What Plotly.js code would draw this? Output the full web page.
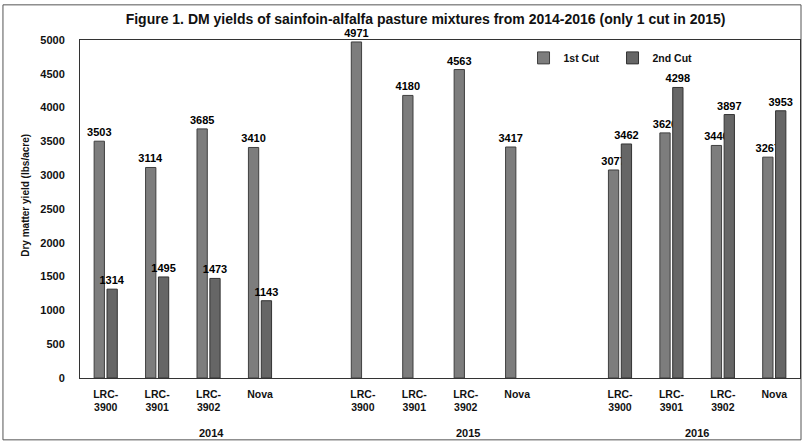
<!DOCTYPE html>
<html>
<head>
<meta charset="utf-8">
<script src="https://cdn.plot.ly/plotly-3.0.1.min.js"></script>
<style>
  html, body { margin: 0; padding: 0; background: #fff; }
  #chart { width: 803px; height: 445px; }
</style>
</head>
<body>
<div id="chart"></div>
<script>
// ---- Data ----
const years = ["2014", "2015", "2016"];
const varieties = ["LRC-3900", "LRC-3901", "LRC-3902", "Nova"];
const firstCut  = [3503, 3114, 3685, 3410,  4971, 4180, 4563, 3417,  3077, 3626, 3440, 3267];
const secondCut = [1314, 1495, 1473, 1143,  null, null, null, null,  3462, 4298, 3897, 3953];
const seriesNames = ["1st Cut", "2nd Cut"];
const yTicks = [0, 500, 1000, 1500, 2000, 2500, 3000, 3500, 4000, 4500, 5000];

// ---- Build category keys (with a blank slot between year groups) ----
const xKeys = [];
const tickVals = [];
const tickText = [];
const categoryOrder = [];
years.forEach((yr, gi) => {
  varieties.forEach(v => {
    const key = yr + " " + v;
    xKeys.push(key);
    categoryOrder.push(key);
    tickVals.push(key);
    tickText.push(v === "Nova" ? "Nova<br> " : v.replace("-", "-<br>"));
  });
  if (gi < years.length - 1) categoryOrder.push("gap" + gi);
});

const boldFont = "Liberation Sans, Arial, sans-serif";

function barTrace(name, values, fill, edge) {
  return {
    type: "bar", name: name, x: xKeys, y: values,
    marker: { color: fill, line: { color: edge, width: 1 } },
    text: values.map(v => v == null ? "" : String(v)),
    textposition: "outside", cliponaxis: false, constraintext: "none",
    textfont: { family: boldFont, size: 11, color: "#000", weight: "bold" }
  };
}

const traces = [
  barTrace(seriesNames[0], firstCut, "#7d7d7d", "#3f3f3f"),
  barTrace(seriesNames[1], secondCut, "#666666", "#333333")
];

// positions of year labels (category index units, as seen in the reference)
const yearPos = [2.05, 7.05, 11.5];

const layout = {
  width: 803, height: 445,
  margin: { l: 80, r: 3, t: 40, b: 67 },
  paper_bgcolor: "#ffffff", plot_bgcolor: "#ffffff",
  font: { family: boldFont, color: "#111" },
  title: {
    text: "<b>Figure 1. DM yields of sainfoin-alfalfa pasture mixtures from 2014-2016 (only 1 cut in 2015)</b>",
    font: { family: boldFont, size: 14, color: "#111" },
    x: 0.53, xanchor: "center", y: 0.958, yanchor: "middle"
  },
  barmode: "group", bargap: 0.5, bargroupgap: 0.2,
  xaxis: {
    type: "category", categoryorder: "array", categoryarray: categoryOrder,
    range: [-0.5, categoryOrder.length - 0.5],
    tickmode: "array", tickvals: tickVals, ticktext: tickText,
    tickfont: { family: boldFont, size: 10.5, color: "#111", weight: "bold" },
    ticks: "outside", ticklen: 6, tickcolor: "rgba(0,0,0,0)", showgrid: false, zeroline: false,
    showline: true, linecolor: "#333", linewidth: 1, mirror: true
  },
  yaxis: {
    range: [0, 5000], tickmode: "array", tickvals: yTicks,
    tickfont: { family: boldFont, size: 11, color: "#111", weight: "bold" },
    ticks: "", ticklabelstandoff: 12, showgrid: false, zeroline: false,
    showline: true, linecolor: "#333", linewidth: 1, mirror: true
  },
  legend: {
    orientation: "h", x: 0.616, y: 0.99, xanchor: "left", yanchor: "top",
    font: { family: boldFont, size: 10.5, color: "#111", weight: "bold" },
    bgcolor: "rgba(0,0,0,0)", itemwidth: 30,
    tracegroupgap: 0, entrywidth: 44
  },
  annotations: years.map((yr, i) => ({
    text: "<b>" + yr + "</b>", x: yearPos[i], xref: "x", y: -0.163, yref: "paper",
    showarrow: false, xanchor: "center", yanchor: "middle",
    font: { family: boldFont, size: 11, color: "#111" }
  })).concat([{
    text: "<b>Dry matter yield (lbs/acre)</b>", textangle: -90,
    x: -0.076, xref: "paper", y: 0.54, yref: "paper", xanchor: "center", yanchor: "middle",
    showarrow: false, font: { family: boldFont, size: 10, color: "#111" }
  }]),
  shapes: [
    { type: "rect", xref: "paper", yref: "paper", x0: -0.107, x1: 1.0014, y0: -0.183, y1: 1.104,
      line: { color: "#555", width: 1 }, fillcolor: "rgba(0,0,0,0)", layer: "below" }
  ],
  showlegend: true
};

Plotly.newPlot("chart", traces, layout, { displayModeBar: false, staticPlot: true });
</script>
</body>
</html>
